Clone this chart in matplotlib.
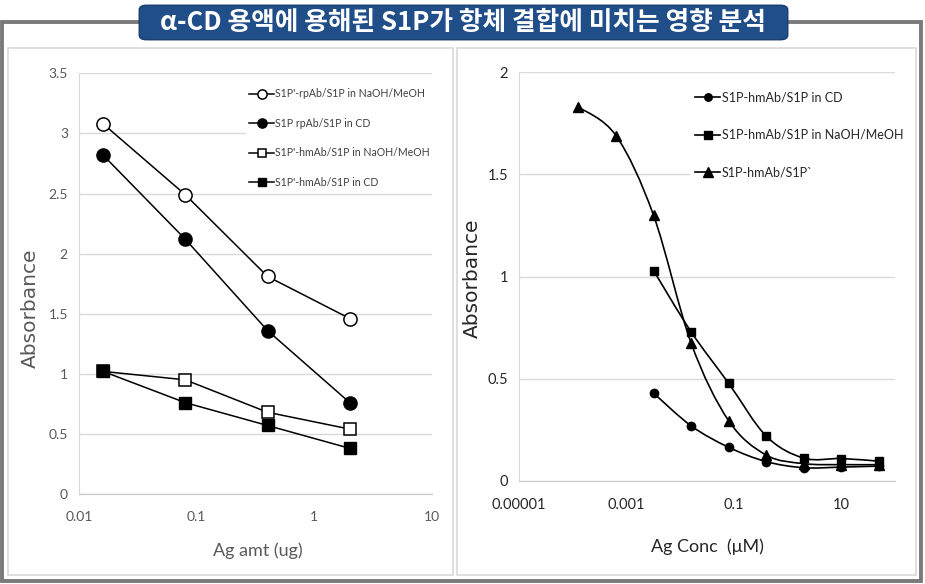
import numpy as np
import matplotlib
matplotlib.use('Agg')
import matplotlib.pyplot as plt
from matplotlib.patches import Rectangle, FancyBboxPatch, PathPatch
from matplotlib.path import Path
from matplotlib.lines import Line2D

# left chart: Ag amount (ug) vs absorbance
amt = [0.016, 0.08, 0.4, 2]
rp_naoh = [3.08, 2.49, 1.81, 1.46]
rp_cd = [2.82, 2.12, 1.36, 0.76]
hm_naoh = [1.02, 0.95, 0.68, 0.54]
hm_cd = [1.02, 0.76, 0.57, 0.38]
left_labels = ["S1P'-rpAb/S1P in NaOH/MeOH", "S1P rpAb/S1P in CD",
               "S1P'-hmAb/S1P in NaOH/MeOH", "S1P'-hmAb/S1P in CD"]

# right chart: Ag conc (uM) vs absorbance
conc_cd = [0.0032, 0.016, 0.08, 0.4, 2, 10, 50]
abs_cd = [0.43, 0.27, 0.165, 0.095, 0.065, 0.068, 0.073]
conc_naoh = [0.0032, 0.016, 0.08, 0.4, 2, 10, 50]
abs_naoh = [1.03, 0.73, 0.478, 0.22, 0.112, 0.11, 0.097]
conc_prime = [0.000128, 0.00064, 0.0032, 0.016, 0.08, 0.4, 2, 10, 50]
abs_prime = [1.83, 1.69, 1.30, 0.675, 0.295, 0.127, 0.085, 0.08, 0.08]
right_labels = ["S1P-hmAb/S1P in CD", "S1P-hmAb/S1P in NaOH/MeOH", "S1P-hmAb/S1P`"]

title = "α-CD 용액에 용해된 S1P가 항체 결합에 미치는 영향 분석"

W, H = 925, 584
fig = plt.figure(figsize=(W / 100, H / 100), dpi=100)
plt.rcParams['font.family'] = ['Lato', 'DejaVu Sans']


def fx(x):
    return x / W


def fy(y):
    return 1 - y / H


# outer frame and panels
fig.patches.append(Rectangle((fx(2), fy(581)), fx(919), 559 / H, transform=fig.transFigure,
                             facecolor='white', edgecolor='#7a7a7a', lw=2.8, zorder=-3))
fig.patches.append(Rectangle((fx(8), fy(575)), fx(445), 527 / H, transform=fig.transFigure,
                             facecolor='white', edgecolor='#d9d9d9', lw=1.2, zorder=-2))
fig.patches.append(Rectangle((fx(457), fy(575)), fx(459), 527 / H, transform=fig.transFigure,
                             facecolor='white', edgecolor='#d9d9d9', lw=1.2, zorder=-2))
fig.patches.append(FancyBboxPatch((fx(142), fy(38)), fx(643), 31 / H, transform=fig.transFigure,
                                  boxstyle='round,pad=0.003,rounding_size=0.008',
                                  facecolor='#1f4e89', edgecolor='#173d6d', lw=1, zorder=-1))
fig.text(fx(463), fy(23), title, color='white', fontsize=18.5, fontweight='bold',
         ha='center', va='center', family=['Noto Sans CJK KR', 'DejaVu Sans'])


def style_axes(ax):
    ax.patch.set_alpha(0)
    for s in ['top', 'right']:
        ax.spines[s].set_visible(False)
    ax.spines['left'].set_color('#d9d9d9')
    ax.spines['bottom'].set_color('#c8c8c8')
    ax.grid(axis='y', color='#d9d9d9', lw=1)
    ax.set_axisbelow(True)
    ax.tick_params(length=0, colors='#595959', labelsize=10, pad=8)
    ax.minorticks_off()


# ---- left chart
ax1 = fig.add_axes([fx(79), fy(494), 353 / W, (494 - 73.3) / H])
ax1.set_xscale('log')
ax1.set_xlim(0.01, 10)
ax1.set_ylim(0, 3.5)
ax1.set_yticks(np.arange(0, 3.51, 0.5))
ax1.set_yticklabels(['0', '0.5', '1', '1.5', '2', '2.5', '3', '3.5'])
ax1.set_xticks([0.01, 0.1, 1, 10])
ax1.set_xticklabels(['0.01', '0.1', '1', '10'])
style_axes(ax1)
ax1.tick_params(axis='x', pad=12)

ax1.plot(amt, rp_naoh, '-o', color='black', mfc='white', mec='black', ms=9.5, mew=1.1, lw=1.1, label=left_labels[0])
ax1.plot(amt, rp_cd, '-o', color='black', mfc='black', ms=9.5, lw=1.1, label=left_labels[1])
ax1.plot(amt, hm_naoh, '-s', color='black', mfc='white', mec='black', ms=8.5, mew=1.1, lw=1.1, label=left_labels[2])
ax1.plot(amt, hm_cd, '-s', color='black', mfc='black', ms=8.5, lw=1.1, label=left_labels[3])
leg1 = ax1.legend(loc='upper left', bbox_to_anchor=(fx(241), fy(80)), bbox_transform=fig.transFigure,
                  fontsize=7.6, frameon=True, facecolor='white', edgecolor='none', framealpha=1,
                  handlelength=2.3, handletextpad=0.1, labelspacing=1.75, markerscale=0.7,
                  borderpad=0.3, fancybox=False)
for t in leg1.get_texts():
    t.set_color('#404040')

fig.text(fx(30), fy(308), 'Absorbance', rotation=90, ha='center', va='center',
         fontsize=14.5, color='#595959', family='DejaVu Sans')
fig.text(fx(258), fy(551), 'Ag amt (ug)', ha='center', va='center', fontsize=13, color='#595959')


# ---- right chart
def smooth_path(xs, ys):
    # Excel-style smoothed line: cubic Bezier segments in (log x, y) space
    lx = np.log10(xs)
    pts = np.column_stack([lx, ys])
    n = len(pts)
    verts = [pts[0]]
    codes = [Path.MOVETO]
    for i in range(n - 1):
        p0 = pts[i - 1] if i > 0 else pts[i]
        p1 = pts[i]
        p2 = pts[i + 1]
        p3 = pts[i + 2] if i + 2 < n else pts[i + 1]
        c1 = p1 + (p2 - p0) / 6
        c2 = p2 - (p3 - p1) / 6
        verts += [c1, c2, p2]
        codes += [Path.CURVE4] * 3
    verts = np.array(verts)
    verts[:, 0] = 10 ** verts[:, 0]
    return Path(verts, codes)


ax2 = fig.add_axes([fx(519), fy(481), 376 / W, 408.7 / H])
ax2.set_xscale('log')
ax2.set_xlim(1e-5, 100)
ax2.set_ylim(0, 2)
ax2.set_yticks([0, 0.5, 1, 1.5, 2])
ax2.set_yticklabels(['0', '0.5', '1', '1.5', '2'])
ax2.set_xticks([1e-5, 1e-3, 0.1, 10])
ax2.set_xticklabels(['0.00001', '0.001', '0.1', '10'])
style_axes(ax2)
ax2.tick_params(colors='#262626', labelsize=10.5)
ax2.tick_params(axis='x', pad=12)

series = [(conc_cd, abs_cd, 'o', 6), (conc_naoh, abs_naoh, 's', 6), (conc_prime, abs_prime, '^', 7.5)]
handles = []
for (xs, ys, m, ms), lab in zip(series, right_labels):
    ax2.add_patch(PathPatch(smooth_path(xs, ys), facecolor='none', edgecolor='black', lw=1.2))
    ax2.plot(xs, ys, m, color='black', ms=ms, ls='none')
    handles.append(Line2D([], [], color='black', marker=m, ms=ms * 0.9, lw=1.2, label=lab))
leg2 = ax2.legend(handles=handles, loc='upper left', bbox_to_anchor=(fx(684), fy(80)),
                  bbox_transform=fig.transFigure, fontsize=9.0, frameon=True, facecolor='white',
                  edgecolor='none', framealpha=1, handlelength=2.0, handletextpad=0.1,
                  labelspacing=2.05, borderpad=0.4, fancybox=False)
for t in leg2.get_texts():
    t.set_color('#262626')

fig.text(fx(472), fy(278), 'Absorbance', rotation=90, ha='center', va='center',
         fontsize=14.5, color='#262626', family='DejaVu Sans')
fig.text(fx(707), fy(547), 'Ag Conc  (μM)', ha='center', va='center', fontsize=13, color='#262626')

fig.savefig('out.png', dpi=100, facecolor='white')
